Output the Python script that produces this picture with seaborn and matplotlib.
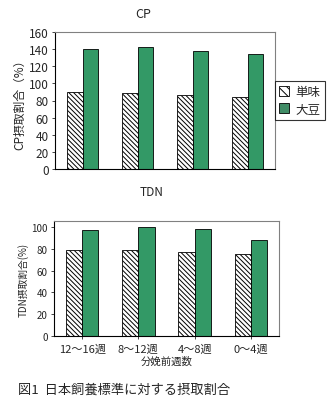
import matplotlib
matplotlib.use("Agg")
import matplotlib.pyplot as plt
import seaborn as sns
import pandas as pd

weeks = ["12～16週", "8～12週", "4～8週", "0～4週"]
series = ["単味", "大豆"]
cp_tanmi = [90, 89, 86, 84]
cp_daizu = [140, 142, 138, 134]
tdn_tanmi = [79, 79, 77, 75]
tdn_daizu = [97, 100, 98, 88]

sns.set_style("white")
plt.rcParams['font.family'] = ['Noto Sans CJK JP', 'DejaVu Sans']
plt.rcParams['hatch.linewidth'] = 0.7

GREEN = "#339966"
HATCH = "\\\\\\\\\\\\\\"
W, H = 333, 402
fig = plt.figure(figsize=(W / 100, H / 100), dpi=100)

def frame(ax):
    for s in ax.spines.values():
        s.set_visible(True)
        s.set_color("black")
        s.set_linewidth(0.8)
    ax.spines["top"].set_color("#808080")
    ax.spines["right"].set_color("#808080")

def draw(ax, tanmi, daizu, width):
    df = pd.DataFrame({
        "week": weeks * 2,
        "series": [series[0]] * 4 + [series[1]] * 4,
        "value": tanmi + daizu,
    })
    sns.barplot(data=df, x="week", y="value", hue="series", order=weeks,
                hue_order=series, palette=["white", GREEN], width=width,
                edgecolor="black", linewidth=0.6, ax=ax, legend=True)
    for p in ax.containers[0]:
        p.set_hatch(HATCH)
    for p in ax.containers[1]:
        p.set_facecolor(GREEN)

# Top: CP
ax1 = fig.add_axes([55 / W, (H - 170) / H, 220 / W, 137 / H])
draw(ax1, cp_tanmi, cp_daizu, 0.55)
ax1.set_ylim(0, 160)
ax1.set_yticks(range(0, 161, 20))
ax1.set_xticks([])
ax1.set_xlabel("")
ax1.set_ylabel("CP摂取割合（%）", fontsize=8.5, labelpad=2)
ax1.tick_params(axis="y", labelsize=8.5, left=True, length=2.5, width=0.6, pad=2)
frame(ax1)
fig.text(143 / W, 1 - 15 / H, "CP", ha="center", va="center", fontsize=9)
handles, labels = ax1.get_legend_handles_labels()
ax1.get_legend().remove()
leg = fig.legend(handles, labels, loc="upper left",
                 bbox_to_anchor=(275 / W, 1 - 82 / H), frameon=True,
                 fancybox=False, fontsize=9, handlelength=0.8,
                 handleheight=0.8, handletextpad=0.5, borderpad=0.35,
                 labelspacing=0.3, borderaxespad=0)
leg.get_frame().set_edgecolor("black")
leg.get_frame().set_linewidth(0.8)
leg.legend_handles[0].set_hatch("\\\\\\\\")
leg.legend_handles[0].set_edgecolor("black")

# Bottom: TDN
ax2 = fig.add_axes([54 / W, (H - 337) / H, 225 / W, 115 / H])
draw(ax2, tdn_tanmi, tdn_daizu, 0.58)
ax2.get_legend().remove()
ax2.set_ylim(0, 105.5)
ax2.set_yticks(range(0, 101, 20))
ax2.set_xlabel("分娩前週数", fontsize=7.5, labelpad=1.5)
ax2.set_ylabel("TDN摂取割合(%)", fontsize=7, labelpad=2)
ax2.tick_params(axis="y", labelsize=7, left=True, length=2.5, width=0.6, pad=2)
ax2.tick_params(axis="x", labelsize=8, bottom=True, length=2.5, width=0.6, pad=3)
frame(ax2)
fig.text(152 / W, 1 - 192 / H, "TDN", ha="center", va="center", fontsize=8.5)

fig.text(18 / W, 1 - 390 / H, "図1  日本飼養標準に対する摂取割合", ha="left",
         va="center", fontsize=9.5)

fig.savefig("out.png", dpi=100)
